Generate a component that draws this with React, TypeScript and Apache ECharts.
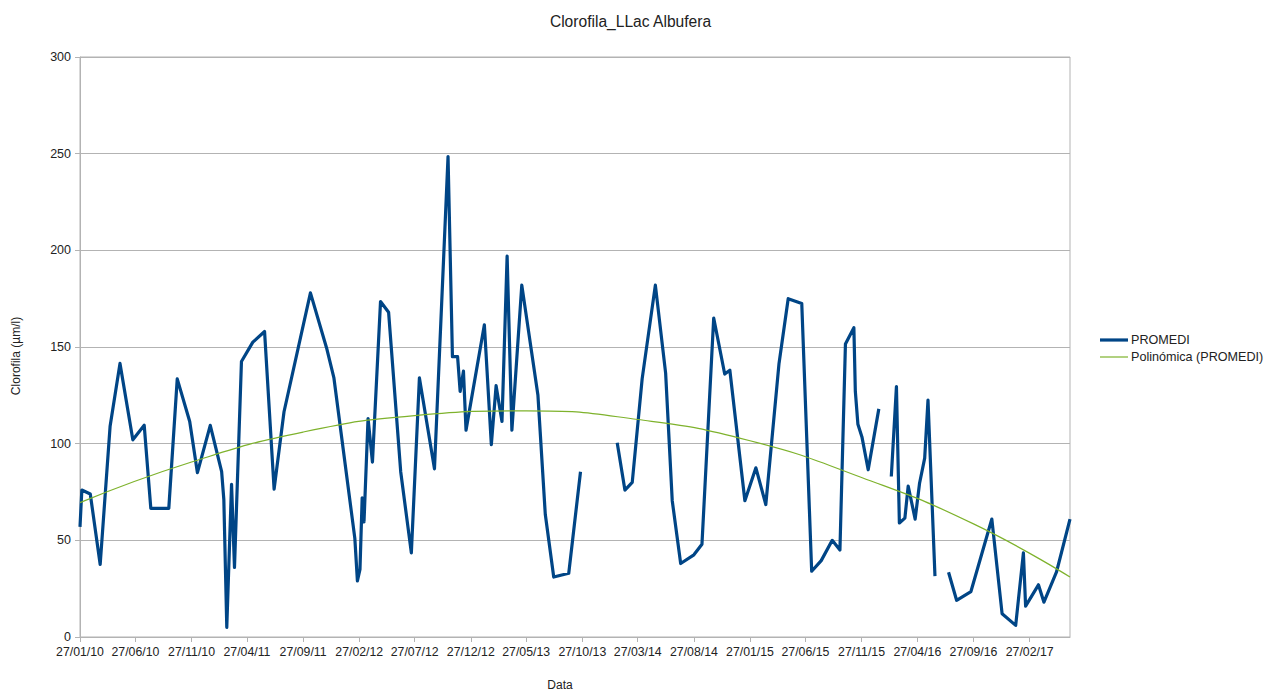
import React, { useEffect, useRef } from "react";
import * as echarts from "echarts";

// PROMEDI samples (null = gap in the series)
const promediDates: string[] = [
  "2010-01-27", "2010-02-01", "2010-02-24", "2010-03-23", "2010-04-19", "2010-05-16",
  "2010-06-20", "2010-07-21", "2010-08-08", "2010-09-26", "2010-10-19", "2010-11-22",
  "2010-12-13", "2011-01-17", "2011-02-17", "2011-02-23", "2011-03-03", "2011-03-16",
  "2011-03-24", "2011-04-12", "2011-05-13", "2011-06-14", "2011-07-10", "2011-08-06",
  "2011-10-17", "2011-11-30", "2011-12-20", "2012-02-15", "2012-02-22", "2012-02-29",
  "2012-03-06", "2012-03-11", "2012-03-22", "2012-04-03", "2012-04-25", "2012-05-17",
  "2012-06-19", "2012-07-18", "2012-08-09", "2012-09-19", "2012-10-26", "2012-11-07",
  "2012-11-21", "2012-11-28", "2012-12-07", "2012-12-14", "2013-02-02", "2013-02-21",
  "2013-03-06", "2013-03-22", "2013-04-05", "2013-04-18", "2013-05-15", "2013-06-28",
  "2013-07-18", "2013-08-10", "2013-09-20", "2013-10-22", "2013-12-01", "2014-01-30",
  "2014-02-20", "2014-03-12", "2014-04-08", "2014-05-14", "2014-06-11", "2014-06-29",
  "2014-07-22", "2014-08-27", "2014-09-18", "2014-10-20", "2014-11-19", "2014-12-03",
  "2015-01-13", "2015-02-12", "2015-03-11", "2015-04-16", "2015-05-11", "2015-06-17",
  "2015-07-14", "2015-08-09", "2015-09-08", "2015-09-29", "2015-10-14", "2015-11-06",
  "2015-11-10", "2015-11-17", "2015-11-28", "2015-12-15", "2016-01-13", "2016-02-01",
  "2016-02-16", "2016-03-01", "2016-03-09", "2016-03-24", "2016-04-02", "2016-04-21",
  "2016-05-03", "2016-05-17", "2016-05-26", "2016-06-14", "2016-07-01", "2016-07-21",
  "2016-08-12", "2016-09-20", "2016-11-16", "2016-12-14", "2017-01-20", "2017-02-10",
  "2017-02-16", "2017-03-23", "2017-04-07", "2017-05-11", "2017-06-17",
];

const promediValues: (number | null)[] = [
  57, 76, 74, 37.5, 109, 141.5,
  102, 109.5, 66.5, 66.5, 133.5, 111.5,
  85, 109.5, 85.5, 71, 5, 79,
  36, 142.5, 152.5, 158, 76.5, 116.5,
  178, 149.5, 134, 51, 29, 35,
  72, 59.5, 113, 90.5, 173.5, 168,
  85.5, 43.5, 134, 87, 248.5, 145,
  145, 127, 137.5, 107, 161.5, 99.5,
  130, 111.5, 197, 107, 182, 125,
  63.5, 31, 33, 85.5, null, 100.5,
  76, 80, 133.5, 182, 136.5, 70.5,
  38, 42.5, 48, 165, 136, 138,
  70.5, 87.5, 68.5, 141.5, 175, 172.5,
  34, 39.5, 50, 45, 151.5, 160,
  127, 110, 103.5, 86.5, 118, null,
  83, 129.5, 59, 61.5, 78, 61,
  79.5, 92.5, 122.5, 31.5, null, 33.5,
  19, 23.5, 61, 12, 6, 43.5,
  16, 27, 18, 33.5, 61,
];

// Polynomial trend line
const trendDates: string[] = [
  "2010-01-27", "2010-11-27", "2011-09-27", "2012-07-27", "2013-05-27",
  "2014-03-27", "2015-01-27", "2015-11-27", "2016-09-27", "2017-06-17",
];
const trendValues: number[] = [69.5, 90.5, 106, 114.5, 117, 112.5, 101.5, 82.5, 58.5, 31];

// Axis ticks
const xTickDates: string[] = [
  "2010-01-27", "2010-06-27", "2010-11-27", "2011-04-27", "2011-09-27", "2012-02-27",
  "2012-07-27", "2012-12-27", "2013-05-27", "2013-10-27", "2014-03-27", "2014-08-27",
  "2015-01-27", "2015-06-27", "2015-11-27", "2016-04-27", "2016-09-27", "2017-02-27",
];
const xMinDate = "2010-01-27";
const xMaxDate = "2017-06-17";
const yMin = 0;
const yMax = 300;
const yStep = 50;

const seriesNames = ["PROMEDI", "Polinómica (PROMEDI)"];

function ts(d: string): number {
  const [y, m, dd] = d.split("-").map(Number);
  return Date.UTC(y, m - 1, dd);
}
function pad(n: number): string {
  return n < 10 ? "0" + n : String(n);
}
function fmt(v: number): string {
  const d = new Date(v);
  return (
    pad(d.getUTCDate()) + "/" + pad(d.getUTCMonth() + 1) + "/" + pad(d.getUTCFullYear() % 100)
  );
}

const FONT = "'Liberation Sans', Arial, sans-serif";
const GRAY = "#b3b3b3";
const TXT = "#222222";
const BLUE = "#004586";
const GREEN = "#7eb22c";

export default function App() {
  const ref = useRef<HTMLDivElement>(null);

  useEffect(() => {
    if (!ref.current) return;
    const chart = echarts.init(ref.current, null, { renderer: "svg" });
    const tickVals = xTickDates.map(ts);

    const promediData = promediDates.map((d, i) => [
      ts(d),
      promediValues[i] === null ? "-" : promediValues[i],
    ]);
    const trendData = trendDates.map((d, i) => [ts(d), trendValues[i]]);

    const legendItems = [
      { name: seriesNames[0], color: BLUE, width: 3.2, y: 340 },
      { name: seriesNames[1], color: GREEN, width: 1.2, y: 357 },
    ];

    chart.setOption({
      animation: false,
      backgroundColor: "#ffffff",
      textStyle: { fontFamily: FONT },
      grid: {
        left: 80,
        top: 57,
        right: 200,
        bottom: 54,
        show: true,
        borderColor: GRAY,
        borderWidth: 1,
        containLabel: false,
      },
      xAxis: {
        type: "value",
        min: ts(xMinDate),
        max: ts(xMaxDate),
        axisLine: { show: true, lineStyle: { color: GRAY, width: 1 } },
        axisTick: {
          show: true,
          length: 5,
          customValues: tickVals,
          lineStyle: { color: GRAY },
        },
        axisLabel: {
          customValues: tickVals,
          formatter: (v: number) => fmt(v),
          fontFamily: FONT,
          fontSize: 12.3,
          color: TXT,
          margin: 9,
          hideOverlap: false,
        },
        splitLine: { show: false },
      },
      yAxis: {
        type: "value",
        min: yMin,
        max: yMax,
        interval: yStep,
        axisLine: { show: true, lineStyle: { color: GRAY, width: 1 } },
        axisTick: { show: true, length: 5, lineStyle: { color: GRAY } },
        axisLabel: {
          fontFamily: FONT,
          fontSize: 12.5,
          color: TXT,
          margin: 9,
        },
        splitLine: { show: true, lineStyle: { color: GRAY, width: 1 } },
      },
      graphic: [
        {
          type: "text",
          x: 630.5,
          y: 21,
          style: {
            text: "Clorofila_LLac Albufera",
            fontFamily: FONT,
            fontSize: 15.6,
            fill: TXT,
            textAlign: "center",
            textVerticalAlign: "middle",
          },
        },
        {
          type: "text",
          x: 560,
          y: 685,
          style: {
            text: "Data",
            fontFamily: FONT,
            fontSize: 12,
            fill: TXT,
            textAlign: "center",
            textVerticalAlign: "middle",
          },
        },
        {
          type: "text",
          x: 16,
          y: 356,
          rotation: Math.PI / 2,
          style: {
            text: "Clorofila (µm/l)",
            fontFamily: FONT,
            fontSize: 12,
            fill: TXT,
            textAlign: "center",
            textVerticalAlign: "middle",
          },
        },
        ...legendItems.flatMap((it) => [
          {
            type: "line",
            shape: { x1: 1100, y1: it.y, x2: 1128, y2: it.y },
            style: { stroke: it.color, lineWidth: it.width },
          },
          {
            type: "text",
            x: 1131,
            y: it.y,
            style: {
              text: it.name,
              fontFamily: FONT,
              fontSize: 12.6,
              fill: TXT,
              textAlign: "left",
              textVerticalAlign: "middle",
            },
          },
        ]),
      ],
      series: [
        {
          name: seriesNames[0],
          type: "line",
          data: promediData,
          symbol: "none",
          showSymbol: false,
          connectNulls: false,
          color: BLUE,
          lineStyle: { color: BLUE, width: 3.2, join: "round" },
          z: 3,
        },
        {
          name: seriesNames[1],
          type: "line",
          data: trendData,
          symbol: "none",
          showSymbol: false,
          smooth: true,
          color: GREEN,
          lineStyle: { color: GREEN, width: 1.2 },
          z: 4,
        },
      ],
    });

    return () => {
      chart.dispose();
    };
  }, []);

  return (
    <div
      ref={ref}
      style={{ position: "fixed", left: 0, top: 0, width: 1270, height: 691, background: "#fff" }}
    />
  );
}
